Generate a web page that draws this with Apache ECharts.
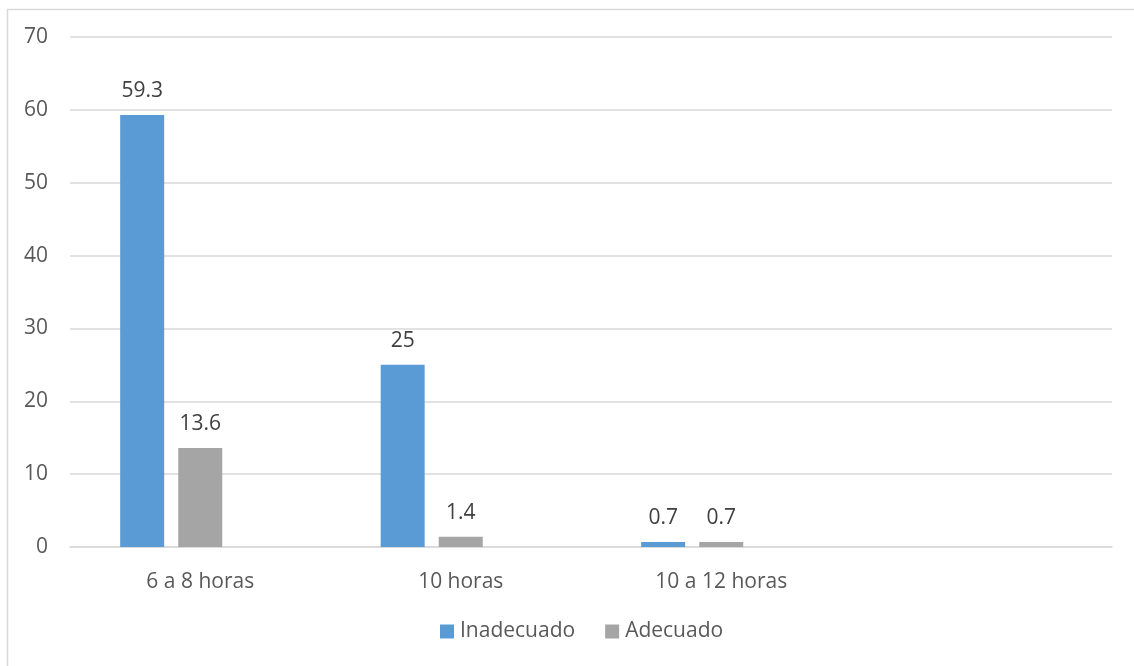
<!DOCTYPE html>
<html>
<head>
<meta charset="utf-8">
<script src="https://cdn.jsdelivr.net/npm/echarts@6/dist/echarts.min.js"></script>
<style>
html,body{margin:0;padding:0;background:#fff;}
#chart{width:1134px;height:666px;}
</style>
</head>
<body>
<div id="chart"></div>
<script>
const categories = ['6 a 8 horas', '10 horas', '10 a 12 horas', ''];
const inadecuado = [59.3, 25, 0.7, null];
const adecuado = [13.6, 1.4, 0.7, null];
const placeholder = [null, null, null, null];
const yTicks = [0, 10, 20, 30, 40, 50, 60, 70];

const chart = echarts.init(document.getElementById('chart'), null, {renderer: 'canvas'});
const font = 'Open Sans';
const labelStyle = {
  show: true, position: 'top', distance: 13,
  color: '#404040', fontFamily: font, fontSize: 21
};
chart.setOption({
  animation: false,
  backgroundColor: '#fff',
  graphic: [{
    type: 'rect', left: 5, top: 7, silent: true,
    shape: {width: 1200, height: 700},
    style: {fill: 'none', stroke: '#d9d9d9', lineWidth: 1.5}
  }],
  grid: {left: 70, right: 22, top: 37, bottom: 119, containLabel: false},
  legend: {
    data: ['Inadecuado', 'Adecuado'],
    bottom: 19, left: 435,
    itemWidth: 14, itemHeight: 14, itemGap: 30,
    icon: 'rect',
    textStyle: {color: '#595959', fontFamily: font, fontSize: 21, padding: [0, 0, 0, 1]}
  },
  xAxis: {
    type: 'category', data: categories,
    axisLine: {lineStyle: {color: '#d9d9d9', width: 1.5}},
    axisTick: {show: false},
    axisLabel: {color: '#595959', fontFamily: font, fontSize: 21, margin: 25}
  },
  yAxis: {
    type: 'value', min: yTicks[0], max: yTicks[yTicks.length - 1], interval: 10,
    axisLine: {show: false}, axisTick: {show: false},
    splitLine: {lineStyle: {color: '#d9d9d9', width: 1.5}},
    axisLabel: {color: '#595959', fontFamily: font, fontSize: 21, margin: 22}
  },
  series: [
    {name: 'Inadecuado', type: 'bar', data: inadecuado, barWidth: 44, barGap: '32%',
     itemStyle: {color: '#5b9bd5'}, label: labelStyle},
    {name: 'Adecuado', type: 'bar', data: adecuado, barWidth: 44, barGap: '32%',
     itemStyle: {color: '#a5a5a5'}, label: labelStyle},
    {name: 'extra', type: 'bar', data: placeholder, barWidth: 44, barGap: '32%',
     itemStyle: {color: '#ffc000'}, label: {show: false}}
  ]
});
</script>
</body>
</html>
